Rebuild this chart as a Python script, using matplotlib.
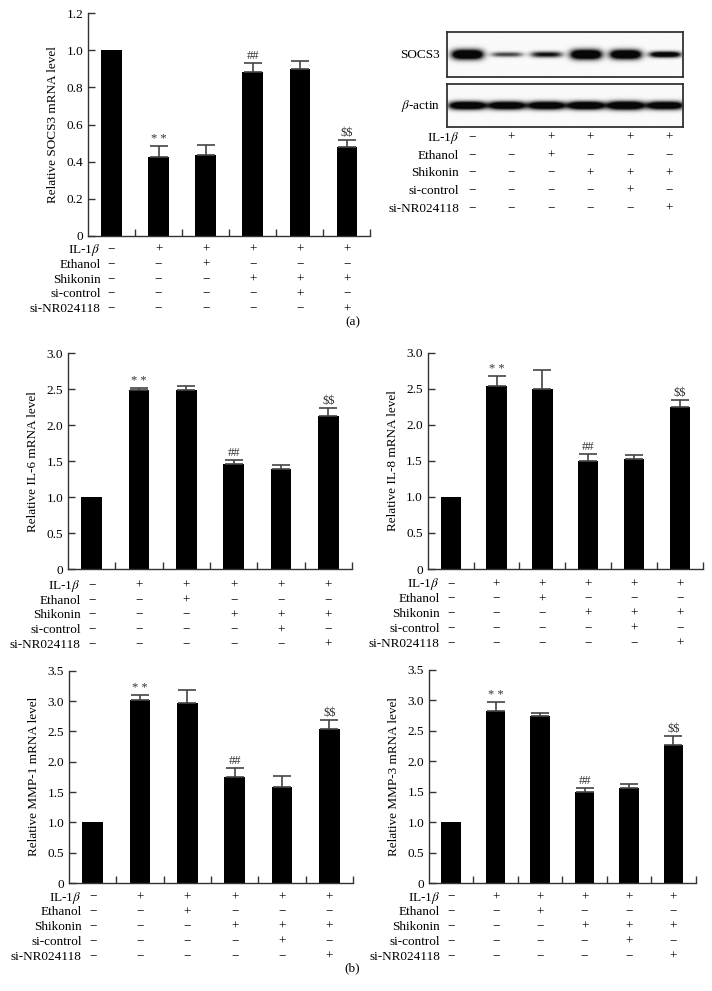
import numpy as np
import matplotlib
matplotlib.use("Agg")
import matplotlib.pyplot as plt

plt.rcParams['font.family'] = ['Liberation Serif', 'DejaVu Serif']
plt.rcParams['mathtext.fontset'] = 'stix'
plt.rcParams['font.size'] = 9.5

W, H = 712, 991

# treatment design (rows = treatments, columns = groups)
treatments = ['IL-1$\\beta$', 'Ethanol', 'Shikonin', 'si-control', 'si-NR024118']
design = [
    [0, 1, 1, 1, 1, 1],
    [0, 0, 1, 0, 0, 0],
    [0, 0, 0, 1, 1, 1],
    [0, 0, 0, 0, 1, 0],
    [0, 0, 0, 0, 0, 1],
]

# relative mRNA levels (mean, upper error)
socs3_mean = [1.0, 0.426, 0.435, 0.880, 0.896, 0.480]
socs3_err = [0, 0.058, 0.052, 0.050, 0.045, 0.034]
il6_mean = [1.01, 2.49, 2.49, 1.458, 1.39, 2.134]
il6_err = [0, 0.024, 0.06, 0.062, 0.054, 0.111]
il8_mean = [1.0, 2.538, 2.50, 1.50, 1.526, 2.242]
il8_err = [0, 0.142, 0.26, 0.10, 0.06, 0.098]
mmp1_mean = [1.01, 3.016, 2.96, 1.747, 1.582, 2.544]
mmp1_err = [0, 0.083, 0.23, 0.143, 0.187, 0.136]
mmp3_mean = [1.01, 2.83, 2.744, 1.49, 1.555, 2.267]
mmp3_err = [0, 0.14, 0.056, 0.076, 0.071, 0.143]

# significance marks above groups
sig_marks = {1: '* *', 3: '##', 5: '\\$\\$'}

# western blot band intensity / thickness per lane
socs3_band_int = [1.0, 0.45, 0.6, 1.0, 1.0, 0.85]
socs3_band_thick = [1.0, 0.5, 0.6, 1.0, 0.95, 0.6]
actin_band_int = [1.0, 0.95, 0.95, 1.0, 1.0, 0.95]
actin_band_thick = [0.85, 0.85, 0.85, 0.85, 0.9, 0.85]

fig = plt.figure(figsize=(W / 100, H / 100), dpi=100)


def px_axes(l, t, r, b):
    return fig.add_axes([l / W, 1 - b / H, (r - l) / W, (b - t) / H])


def treatment_table(ax, first_off, step, label_dx=-11, sign_dx=0):
    for r, (name, row) in enumerate(zip(treatments, design)):
        # baseline sits ~4 px below the row centre
        off = first_off + r * step + 4
        ax.annotate(name, xy=(0, 0), xycoords=('data', 'axes fraction'),
                    xytext=(label_dx, -off), textcoords='offset pixels',
                    ha='right', va='baseline', annotation_clip=False)
        for i, v in enumerate(row):
            ax.annotate('+' if v else '\u2212', xy=(i, 0), xycoords=('data', 'axes fraction'),
                        xytext=(sign_dx, -off), textcoords='offset pixels',
                        ha='center', va='baseline', annotation_clip=False)


def bar_panel(rect, means, errs, ymax, ystep, ylabel, first_off):
    ax = px_axes(*rect)
    x = np.arange(len(means))
    ax.bar(x, means, width=0.44, color='black', zorder=2)
    up = np.array(errs)
    ax.errorbar(x[1:], np.array(means)[1:], yerr=[np.zeros(len(x) - 1), up[1:]],
                fmt='none', ecolor='#444444', elinewidth=1.2, capsize=6.5,
                capthick=1.2, zorder=3)
    for i, m in sig_marks.items():
        ax.annotate(m, xy=(i, means[i] + errs[i]), xytext=(0, 1), textcoords='offset pixels',
                    ha='center', va='bottom', fontsize=9, color='#333333')
    ax.set_xlim(-0.5, 5.5)
    ax.set_ylim(0, ymax)
    yt = np.arange(0, ymax + 1e-9, ystep)
    ax.set_yticks(yt)
    ax.set_yticklabels(['0'] + [f'{v:.1f}' for v in yt[1:]])
    ax.set_xticks(np.arange(0.5, 5.6, 1))
    ax.set_xticklabels([])
    ax.tick_params(direction='in', length=5, width=1, color='#333333', labelsize=9.5)
    for s in ['top', 'right']:
        ax.spines[s].set_visible(False)
    for s in ['left', 'bottom']:
        ax.spines[s].set_color('#333333')
        ax.spines[s].set_linewidth(1)
    ax.set_ylabel(ylabel, fontsize=9.5, labelpad=5)
    treatment_table(ax, first_off, 14.8)
    return ax


bar_panel((88, 13, 370.5, 236), socs3_mean, socs3_err, 1.2, 0.2, 'Relative SOCS3 mRNA level', 13)
bar_panel((68, 353.3, 352, 569.3), il6_mean, il6_err, 3.0, 0.5, 'Relative IL-6 mRNA level', 15.5)
bar_panel((427.7, 352.7, 703, 569), il8_mean, il8_err, 3.0, 0.5, 'Relative IL-8 mRNA level', 14.5)
bar_panel((69, 670.7, 353, 883), mmp1_mean, mmp1_err, 3.5, 0.5, 'Relative MMP-1 mRNA level', 13.5)
bar_panel((429, 670, 695.7, 883), mmp3_mean, mmp3_err, 3.5, 0.5, 'Relative MMP-3 mRNA level', 13.5)


# western blot
def blot(rect, ints, thicks, half_w, sigma):
    ax = px_axes(*rect)
    x0, x1 = -0.515, 5.47
    xs = np.linspace(x0, x1, 700)
    ys = np.linspace(-1, 1, 140)
    X, Y = np.meshgrid(xs, ys)
    img = np.zeros_like(X)
    for i, (a, t) in enumerate(zip(ints, thicks)):
        img += a * np.exp(-(np.abs(X - i) / half_w) ** 4) * np.exp(-(Y / (sigma * t)) ** 2)
    img = np.clip(img * 1.7, 0, 1) * 0.95 + 0.02
    ax.imshow(img, extent=(x0, x1, -1, 1), cmap='gray_r', vmin=0, vmax=1,
              aspect='auto', interpolation='bilinear')
    ax.set_xlim(x0, x1)
    ax.set_ylim(-1, 1)
    ax.set_xticks([])
    ax.set_yticks([])
    for s in ax.spines.values():
        s.set_color('#333333')
        s.set_linewidth(1.3)
    return ax


blot((446.7, 32, 682.7, 77), socs3_band_int, socs3_band_thick, 0.4, 0.22)
ax_b = blot((446.7, 84, 682.7, 127), actin_band_int, actin_band_thick, 0.47, 0.22)
fig.text(440 / W, 1 - 55 / H, 'SOCS3', ha='right', va='center', fontsize=9.5)
fig.text(440 / W, 1 - 106 / H, '$\\beta$-actin', ha='right', va='center', fontsize=9.5)
treatment_table(ax_b, 10, 17.7, label_dx=-8, sign_dx=5)

fig.text(353 / W, 1 - 322 / H, '(a)', ha='center', va='center', fontsize=9.5)
fig.text(352 / W, 1 - 968 / H, '(b)', ha='center', va='center', fontsize=9.5)

fig.savefig('out.png', dpi=100)
